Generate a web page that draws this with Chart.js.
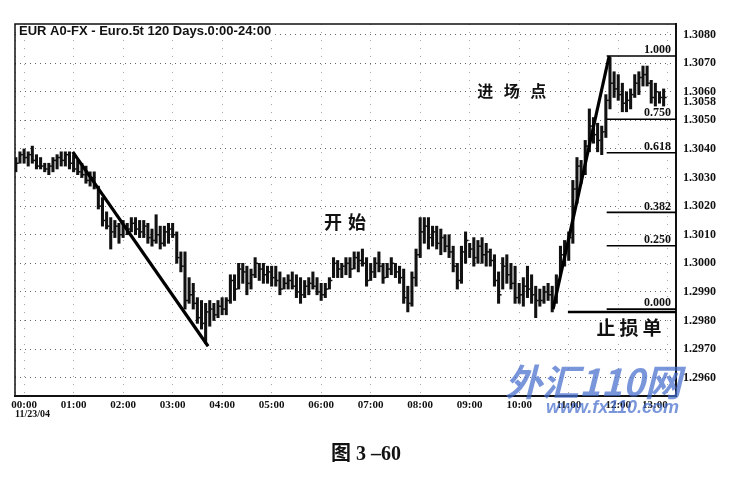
<!DOCTYPE html>
<html>
<head>
<meta charset="utf-8">
<script src="https://cdn.jsdelivr.net/npm/chart.js@4/dist/chart.umd.min.js"></script>
<style>
  html, body { margin: 0; padding: 0; background: #fff; }
  #wrap { width: 748px; height: 478px; }
</style>
</head>
<body>
<div id="wrap"><canvas id="chart" width="748" height="478"></canvas></div>
<script>
const title = "EUR A0-FX - Euro.5t 120 Days.0:00-24:00";
const dateLabel = "11/23/04";
const caption = "图 3 \u201360";

// 5-minute bars, first one at 23:50 of the previous day (minutes from 00:00)
const firstBarMinute = -10;
const barMinutes = 5;

const highs = [
  1.3037, 1.3039, 1.3040, 1.3039, 1.3041, 1.3038, 1.3037, 1.3035, 1.3035, 1.3037,
  1.3038, 1.3039, 1.3039, 1.3039, 1.3038, 1.3036, 1.3035, 1.3034, 1.3032, 1.3032,
  1.3027, 1.3023, 1.3018, 1.3016, 1.3015, 1.3014, 1.3015, 1.3014, 1.3016, 1.3016,
  1.3015, 1.3015, 1.3014, 1.3012, 1.3017, 1.3013, 1.3013, 1.3014, 1.3014, 1.3011,
  1.3004, 1.3004, 1.2995, 1.2993, 1.2988, 1.2987, 1.2986, 1.2987, 1.2986, 1.2987,
  1.2988, 1.2988, 1.2996, 1.2996, 1.3000, 1.3000, 1.2999, 1.2998, 1.3002, 1.3000,
  1.3000, 1.2999, 1.2999, 1.2999, 1.2997, 1.2995, 1.2996, 1.2997, 1.2996, 1.2995,
  1.2994, 1.2995, 1.2997, 1.2995, 1.2993, 1.2993, 1.2995, 1.3002, 1.3001, 1.3000,
  1.3002, 1.3002, 1.3004, 1.3004, 1.3005, 1.3002, 1.3000, 1.3002, 1.3004, 1.3000,
  1.3000, 1.3002, 1.3000, 1.2999, 1.2998, 1.2992, 1.2997, 1.3005, 1.3016, 1.3016,
  1.3016, 1.3013, 1.3013, 1.3012, 1.3010, 1.3010, 1.3006, 1.3000, 1.3006, 1.3011,
  1.3007, 1.3009, 1.3008, 1.3009, 1.3007, 1.3005, 1.3003, 1.2997, 1.3002, 1.3003,
  1.3000, 1.2999, 1.2993, 1.2995, 1.2999, 1.2996, 1.2992, 1.2991, 1.2992, 1.2993,
  1.2992, 1.2996, 1.3006, 1.3008, 1.3011, 1.3029, 1.3037, 1.3036, 1.3043, 1.3054,
  1.3051, 1.3049, 1.3048, 1.3059, 1.3072, 1.3067, 1.3066, 1.3063, 1.3060, 1.3061,
  1.3066, 1.3067, 1.3069, 1.3069, 1.3064, 1.3063, 1.3060, 1.3061
];
const lows = [
  1.3032, 1.3035, 1.3035, 1.3034, 1.3035, 1.3033, 1.3033, 1.3032, 1.3031, 1.3032,
  1.3033, 1.3034, 1.3034, 1.3033, 1.3032, 1.3031, 1.3030, 1.3028, 1.3027, 1.3026,
  1.3019, 1.3013, 1.3012, 1.3005, 1.3009, 1.3007, 1.3009, 1.3010, 1.3011, 1.3010,
  1.3009, 1.3009, 1.3007, 1.3006, 1.3007, 1.3005, 1.3006, 1.3007, 1.3009, 1.3000,
  1.2997, 1.2984, 1.2986, 1.2984, 1.2979, 1.2977, 1.2972, 1.2978, 1.2980, 1.2981,
  1.2982, 1.2982, 1.2986, 1.2987, 1.2991, 1.2993, 1.2989, 1.2991, 1.2995, 1.2994,
  1.2993, 1.2993, 1.2992, 1.2992, 1.2989, 1.2991, 1.2991, 1.2991, 1.2988, 1.2986,
  1.2988, 1.2989, 1.2991, 1.2989, 1.2987, 1.2988, 1.2991, 1.2995, 1.2995, 1.2995,
  1.2996, 1.2995, 1.2998, 1.2997, 1.2999, 1.2992, 1.2994, 1.2995, 1.2997, 1.2993,
  1.2995, 1.2996, 1.2995, 1.2993, 1.2986, 1.2983, 1.2985, 1.2992, 1.3002, 1.3007,
  1.3005, 1.3006, 1.3005, 1.3003, 1.3004, 1.3002, 1.2997, 1.2991, 1.2993, 1.3000,
  1.3002, 1.2999, 1.3000, 1.3000, 1.2999, 1.2999, 1.2992, 1.2986, 1.2991, 1.2993,
  1.2991, 1.2986, 1.2986, 1.2985, 1.2988, 1.2986, 1.2981, 1.2985, 1.2986, 1.2987,
  1.2983, 1.2986, 1.2996, 1.2999, 1.3001, 1.3007, 1.3021, 1.3028, 1.3031, 1.3039,
  1.3042, 1.3039, 1.3038, 1.3044, 1.3054, 1.3058, 1.3057, 1.3053, 1.3053, 1.3054,
  1.3058, 1.3059, 1.3062, 1.3062, 1.3056, 1.3055, 1.3056, 1.3055
];
const closes = [
  1.3035, 1.3038, 1.3037, 1.3038, 1.3036, 1.3034, 1.3034, 1.3033, 1.3034, 1.3036,
  1.3037, 1.3036, 1.3038, 1.3035, 1.3033, 1.3032, 1.3031, 1.3029, 1.3030, 1.3027,
  1.3020, 1.3015, 1.3013, 1.3011, 1.3013, 1.3010, 1.3013, 1.3012, 1.3014, 1.3012,
  1.3011, 1.3013, 1.3009, 1.3008, 1.3010, 1.3007, 1.3011, 1.3012, 1.3010, 1.3002,
  1.2999, 1.2987, 1.2989, 1.2986, 1.2981, 1.2979, 1.2983, 1.2984, 1.2982, 1.2985,
  1.2984, 1.2987, 1.2994, 1.2991, 1.2998, 1.2997, 1.2993, 1.2996, 1.3000, 1.2998,
  1.2996, 1.2997, 1.2995, 1.2994, 1.2991, 1.2993, 1.2994, 1.2992, 1.2990, 1.2989,
  1.2992, 1.2993, 1.2992, 1.2990, 1.2989, 1.2991, 1.2994, 1.3000, 1.2998, 1.2999,
  1.3000, 1.2998, 1.3002, 1.3001, 1.3000, 1.2994, 1.2997, 1.3000, 1.2999, 1.2995,
  1.2998, 1.3000, 1.2997, 1.2995, 1.2988, 1.2986, 1.2995, 1.3003, 1.3011, 1.3013,
  1.3009, 1.3011, 1.3007, 1.3009, 1.3006, 1.3004, 1.2999, 1.2994, 1.3004, 1.3008,
  1.3005, 1.3002, 1.3006, 1.3003, 1.3004, 1.3001, 1.2994, 1.2989, 1.2999, 1.2996,
  1.2993, 1.2988, 1.2989, 1.2992, 1.2991, 1.2989, 1.2987, 1.2987, 1.2990, 1.2989,
  1.2985, 1.2994, 1.3003, 1.3006, 1.3009, 1.3026, 1.3034, 1.3032, 1.3041, 1.3048,
  1.3045, 1.3043, 1.3046, 1.3057, 1.3063, 1.3061, 1.3059, 1.3056, 1.3057, 1.3059,
  1.3063, 1.3065, 1.3066, 1.3063, 1.3058, 1.3060, 1.3058, 1.3058
];

const timeLabels = ["00:00", "01:00", "02:00", "03:00", "04:00", "05:00", "06:00",
  "07:00", "08:00", "09:00", "10:00", "11:00", "12:00", "13:00"];
const priceLabels = ["1.3080", "1.3070", "1.3060", "1.3050", "1.3040", "1.3030", "1.3020",
  "1.3010", "1.3000", "1.2990", "1.2980", "1.2970", "1.2960"];
const lastPriceLabel = "1.3058";

// hand drawn lines (minute, price)
const downTrend = [{ x: 59, y: 1.3039 }, { x: 223, y: 1.2971 }];
const upTrend = [{ x: 641, y: 1.2984 }, { x: 709, y: 1.30725 }];
const fibRatios = [1, 0.75, 0.618, 0.382, 0.25, 0];
const fibLow = 1.2984, fibHigh = 1.30725, fibFrom = 706;
const stopLoss = 1.2983, stopFrom = 659;

const xMin = -11, xMax = 790;
const yMin = 1.29536, yMax = 1.30837;

function toMinutes(label) {
  const [h, m] = label.split(":").map(Number);
  return h * 60 + m;
}

const fibLevels = fibRatios.map(r => fibLow + (fibHigh - fibLow) * r);

const notes = [
  { text: "进场点", t: 591, price: 1.30603, size: 16, gap: 26.5 },
  { text: "开始", t: 389, price: 1.30145, size: 18, gap: 24 },
  { text: "止损单", t: 733, price: 1.29774, size: 19, gap: 23 }
];

function hline(y, from) {
  return [{ x: from, y: y }, { x: xMax, y: y }];
}

const lineSets = [
  { type: "line", data: downTrend, borderColor: "#000", borderWidth: 3.2, pointRadius: 0, order: 0 },
  { type: "line", data: upTrend, borderColor: "#000", borderWidth: 3.2, pointRadius: 0, order: 0 },
  { type: "line", data: hline(stopLoss, stopFrom), borderColor: "#000", borderWidth: 2.6, pointRadius: 0, order: 0 }
].concat(fibLevels.map(v => ({
  type: "line", data: hline(v, fibFrom), borderColor: "#000", borderWidth: 1.6, pointRadius: 0, order: 0
})));

const extras = {
  id: "extras",
  afterDraw(c) {
    const ctx = c.ctx, a = c.chartArea;
    const xs = c.scales.x, ys = c.scales.y;
    ctx.save();
    // left and top frame
    ctx.strokeStyle = "#111";
    ctx.lineWidth = 1.5;
    ctx.beginPath();
    ctx.moveTo(a.left, a.bottom);
    ctx.lineTo(a.left, a.top);
    ctx.lineTo(a.right, a.top);
    ctx.stroke();

    // title
    ctx.font = "bold 13px 'Liberation Sans', sans-serif";
    ctx.textBaseline = "middle";
    ctx.textAlign = "left";
    const tw = ctx.measureText(title).width;
    ctx.fillStyle = "#fff";
    ctx.fillRect(a.left + 2, a.top + 1, tw + 6, 12);
    ctx.fillStyle = "#111";
    ctx.fillText(title, a.left + 4, a.top + 7);

    // fibonacci labels
    ctx.font = "bold 12px 'Liberation Serif', serif";
    ctx.textAlign = "right";
    fibRatios.forEach((r, i) => {
      ctx.fillText(r.toFixed(3), a.right - 5, ys.getPixelForValue(fibLevels[i]) - 6);
    });

    // last price on the axis
    ctx.font = "bold 12px 'Liberation Serif', serif";
    ctx.textAlign = "left";
    ctx.fillText(lastPriceLabel, a.right + 7, ys.getPixelForValue(parseFloat(lastPriceLabel)) + 4);

    // chinese notes
    notes.forEach(n => {
      ctx.font = "bold " + n.size + "px 'Noto Sans CJK SC', sans-serif";
      ctx.textAlign = "center";
      const cx = xs.getPixelForValue(n.t), cy = ys.getPixelForValue(n.price);
      const chars = [...n.text];
      chars.forEach((ch, i) => {
        ctx.fillText(ch, cx + (i - (chars.length - 1) / 2) * n.gap, cy);
      });
    });

    // date under first time label
    ctx.font = "bold 10px 'Liberation Serif', serif";
    ctx.textAlign = "left";
    ctx.fillText(dateLabel, a.left, a.bottom + 18);

    // watermark
    ctx.fillStyle = "rgba(70,110,205,0.72)";
    ctx.font = "italic bold 37px 'Noto Sans CJK SC', sans-serif";
    ctx.textAlign = "left";
    ctx.textBaseline = "alphabetic";
    ctx.fillText("外汇110网", 505, 396);
    ctx.font = "italic bold 18px 'Liberation Sans', sans-serif";
    ctx.fillText("www.fx110.com", 546, 413);

    // caption
    ctx.fillStyle = "#111";
    ctx.font = "bold 20px 'Liberation Serif', 'Noto Sans CJK SC', serif";
    ctx.textAlign = "center";
    ctx.textBaseline = "middle";
    ctx.fillText(caption, 366, 455);
    ctx.restore();
  }
};

new Chart(document.getElementById("chart"), {
  type: "bar",
  data: {
    datasets: lineSets.concat([
      {
        type: "scatter",
        data: closes.map((v, i) => ({ x: firstBarMinute + i * barMinutes + 1.8, y: v })),
        pointStyle: "line",
        pointRadius: 1.5,
        borderColor: "#111",
        borderWidth: 1.5,
        order: 1
      },
      {
        type: "bar",
        data: highs.map((h, i) => ({ x: firstBarMinute + i * barMinutes, y: [lows[i], h] })),
        backgroundColor: "#111",
        barThickness: 2.4,
        order: 2
      }
    ])
  },
  plugins: [extras],
  options: {
    responsive: false,
    animation: false,
    layout: { padding: { left: 15, top: 24, right: 0, bottom: 0 } },
    plugins: { legend: { display: false }, tooltip: { enabled: false } },
    scales: {
      x: {
        type: "linear",
        min: xMin,
        max: xMax,
        offset: false,
        afterBuildTicks: s => {
          s.ticks = [{ value: xMin }].concat(timeLabels.map(l => ({ value: toMinutes(l) })));
        },
        afterFit: s => { s.height = 82; },
        ticks: {
          autoSkip: false,
          maxRotation: 0,
          align: "inner",
          padding: 3,
          color: "#111",
          font: { family: "'Liberation Serif', serif", size: 11, weight: "bold" },
          callback: (v, i) => (i === 0 ? "" : timeLabels[i - 1])
        },
        grid: { offset: false, color: "rgba(0,0,0,0.35)", drawTicks: false },
        border: { color: "#111", width: 2, dash: [1, 7] }
      },
      y: {
        position: "right",
        min: yMin,
        max: yMax,
        afterBuildTicks: s => {
          s.ticks = priceLabels.map(l => ({ value: parseFloat(l) }));
        },
        afterFit: s => { s.width = 72; },
        ticks: {
          autoSkip: false,
          padding: 7,
          color: "#111",
          font: { family: "'Liberation Serif', serif", size: 12, weight: "bold" },
          callback: (v, i) => priceLabels[i]
        },
        grid: { color: "rgba(0,0,0,0.6)", drawTicks: false },
        border: { color: "#111", width: 2, dash: [1, 4] }
      }
    }
  }
});
</script>
</body>
</html>
